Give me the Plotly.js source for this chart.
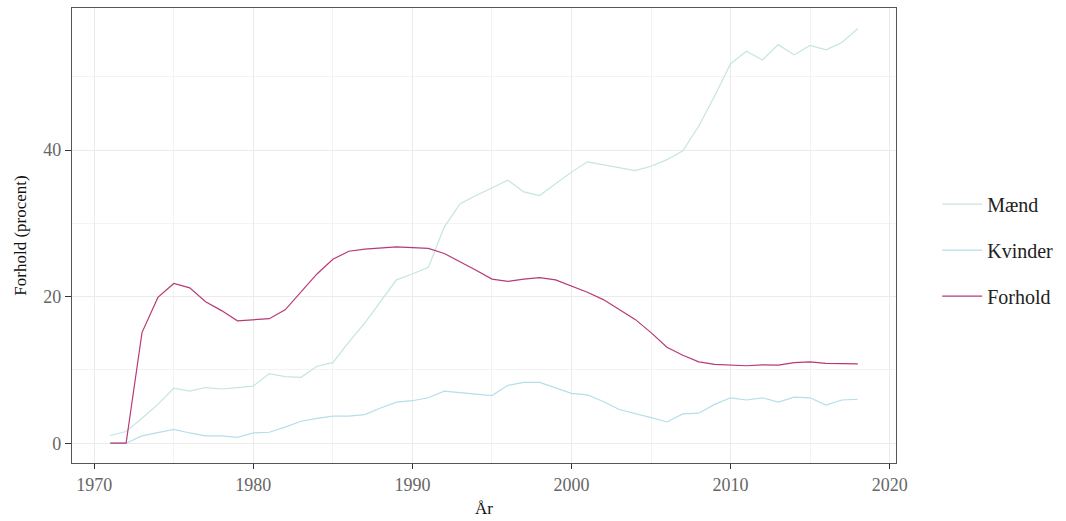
<!DOCTYPE html>
<html>
<head>
<meta charset="utf-8">
<script src="https://cdn.plot.ly/plotly-3.0.1.min.js"></script>
<style>html,body{margin:0;padding:0;background:#fff;}#chart{width:1066px;height:521px;}</style>
</head>
<body>
<div id="chart"></div>
<script>
const years = [1971,1972,1973,1974,1975,1976,1977,1978,1979,1980,1981,1982,1983,1984,1985,1986,1987,1988,1989,1990,1991,1992,1993,1994,1995,1996,1997,1998,1999,2000,2001,2002,2003,2004,2005,2006,2007,2008,2009,2010,2011,2012,2013,2014,2015,2016,2017,2018];
const maend = [1.05,1.6,3.4,5.3,7.5,7.1,7.6,7.4,7.6,7.8,9.5,9.1,9.0,10.5,11.0,13.8,16.4,19.4,22.3,23.1,24.0,29.5,32.7,33.8,34.8,35.9,34.3,33.8,35.4,37.0,38.4,38.0,37.6,37.2,37.8,38.7,39.9,43.3,47.4,51.8,53.5,52.3,54.4,53.0,54.3,53.7,54.7,56.6];
const kvinder = [0,0,1.0,1.4,1.9,1.4,1.0,1.0,0.8,1.4,1.5,2.2,3.0,3.4,3.7,3.7,3.9,4.8,5.6,5.8,6.2,7.1,6.9,6.7,6.5,7.9,8.3,8.3,7.6,6.8,6.6,5.7,4.6,4.1,3.5,2.9,4.0,4.1,5.3,6.2,5.9,6.2,5.6,6.3,6.2,5.2,5.9,6.0];
const forhold = [0,0,15.1,19.9,21.8,21.2,19.3,18.1,16.7,16.9,17.0,18.2,20.6,23.1,25.1,26.2,26.5,26.7,26.8,26.7,26.6,25.9,24.8,23.6,22.4,22.1,22.4,22.6,22.3,21.5,20.6,19.6,18.3,16.9,15.1,13.1,12.0,11.1,10.75,10.66,10.57,10.7,10.66,11.0,11.1,10.9,10.9,10.84];
const seriesNames = ["Mænd","Kvinder","Forhold"];
const colors = ["#c6e5de","#b4dfea","#b83a74"];
const xTickVals = [1970,1980,1990,2000,2010,2020];
const yTickVals = [0,20,40];

const allY = [maend,kvinder,forhold];
const traces = allY.map((y,i)=>({
  x: years, y: y, type:'scatter', mode:'lines', name: seriesNames[i],
  legendgroup: 'g'+i,
  line:{color: colors[i], width: 1.2}
}));

const fontFam = '"Liberation Serif", "DejaVu Serif", serif';
const layout = {
  width:1066, height:521,
  margin:{l:72, r:168, t:8, b:58},
  paper_bgcolor:'#fff', plot_bgcolor:'#fff',
  font:{family:fontFam, color:'#222'},
  showlegend:true,
  legend:{x:1.05, xanchor:'left', y:0.468, yanchor:'middle', itemwidth:40, font:{size:20, color:'#222', family:fontFam}, tracegroupgap:17, traceorder:'grouped', bgcolor:'rgba(0,0,0,0)'},
  xaxis:{
    range:[1968.6,2020.4], tickvals:xTickVals, ticktext:xTickVals.map(String),
    showgrid:true, gridcolor:'#ebebeb', gridwidth:1,
    minor:{dtick:5, tick0:1965, showgrid:true, gridcolor:'#f3f3f3', gridwidth:1},
    ticks:'outside', ticklen:5, tickcolor:'#333', tickwidth:1,
    tickfont:{size:18, color:'#666', family:fontFam},
    showline:true, linecolor:'#555', linewidth:1.2, mirror:true, zeroline:false,
    title:{text:'År', font:{size:17, color:'#111', family:fontFam}, standoff:8}
  },
  yaxis:{
    range:[-2.7,59.4], tickvals:yTickVals, ticktext:yTickVals.map(String),
    showgrid:true, gridcolor:'#ebebeb', gridwidth:1,
    minor:{dtick:10, tick0:0, showgrid:true, gridcolor:'#f3f3f3', gridwidth:1},
    ticks:'outside', ticklen:6, tickcolor:'#333', tickwidth:1,
    tickfont:{size:18, color:'#666', family:fontFam},
    showline:true, linecolor:'#555', linewidth:1.2, mirror:true, zeroline:false,
    title:{text:'Forhold (procent)', font:{size:17, color:'#111', family:fontFam}, standoff:12}
  }
};
Plotly.newPlot('chart', traces, layout, {displayModeBar:false, staticPlot:true});
</script>
</body>
</html>
